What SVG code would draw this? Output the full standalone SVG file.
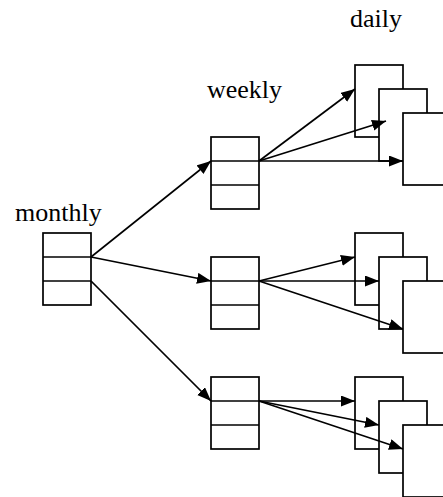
<svg xmlns="http://www.w3.org/2000/svg" width="443" height="497" viewBox="0 0 443 497">
  <defs>
    <marker id="arrow" markerUnits="userSpaceOnUse" markerWidth="15" markerHeight="12" refX="14" refY="5.5" orient="auto">
      <path d="M0,0 L14,5.5 L0,11 z" fill="#000"/>
    </marker>
    <!-- three-row record box, 48 x 72 -->
    <g id="rec">
      <rect x="0" y="0" width="48" height="72"/>
      <line x1="0" y1="24" x2="48" y2="24"/>
      <line x1="0" y1="48" x2="48" y2="48"/>
    </g>
  </defs>
  <style>
    rect { fill: #fff; stroke: #000; stroke-width: 1.7; }
    line { stroke: #000; stroke-width: 1.7; }
    .conn line { marker-end: url(#arrow); }
    text { font-family: "Liberation Serif", "Times New Roman", serif; font-size: 26px; fill: #000; }
  </style>
  <rect x="0" y="0" width="443" height="497" style="stroke:none"/>

  <!-- labels -->
  <text x="15" y="221">monthly</text>
  <text x="207" y="98">weekly</text>
  <text x="350" y="27">daily</text>

  <!-- monthly -->
  <g id="monthly"><use href="#rec" x="43" y="233"/></g>

  <!-- weekly -->
  <g id="weekly1"><use href="#rec" x="211" y="137"/></g>
  <g id="weekly2"><use href="#rec" x="211" y="257"/></g>
  <g id="weekly3"><use href="#rec" x="211" y="377"/></g>

  <!-- daily pages, stacked -->
  <g id="daily1a"><rect x="355" y="65" width="48" height="72"/></g>
  <g id="daily1b"><rect x="379" y="89" width="48" height="72"/></g>
  <g id="daily1c"><rect x="403" y="113" width="48" height="72"/></g>

  <g id="daily2a"><rect x="355" y="233" width="48" height="72"/></g>
  <g id="daily2b"><rect x="379" y="257" width="48" height="72"/></g>
  <g id="daily2c"><rect x="403" y="281" width="48" height="72"/></g>

  <g id="daily3a"><rect x="355" y="377" width="48" height="72"/></g>
  <g id="daily3b"><rect x="379" y="401" width="48" height="72"/></g>
  <g id="daily3c"><rect x="403" y="425" width="48" height="72"/></g>

  <!-- connectors -->
  <g id="connectors" class="conn">
    <line x1="91" y1="257" x2="211" y2="161"/>
    <line x1="91" y1="257" x2="211" y2="281"/>
    <line x1="91" y1="281" x2="211" y2="401"/>

    <line x1="259" y1="161" x2="355" y2="89"/>
    <line x1="259" y1="161" x2="386" y2="121"/>
    <line x1="259" y1="161" x2="403" y2="161"/>

    <line x1="259" y1="281" x2="355" y2="257"/>
    <line x1="259" y1="281" x2="379" y2="281"/>
    <line x1="259" y1="281" x2="403" y2="329"/>

    <line x1="259" y1="401" x2="355" y2="401"/>
    <line x1="259" y1="401" x2="379" y2="425"/>
    <line x1="259" y1="401" x2="403" y2="449"/>
  </g>
</svg>
